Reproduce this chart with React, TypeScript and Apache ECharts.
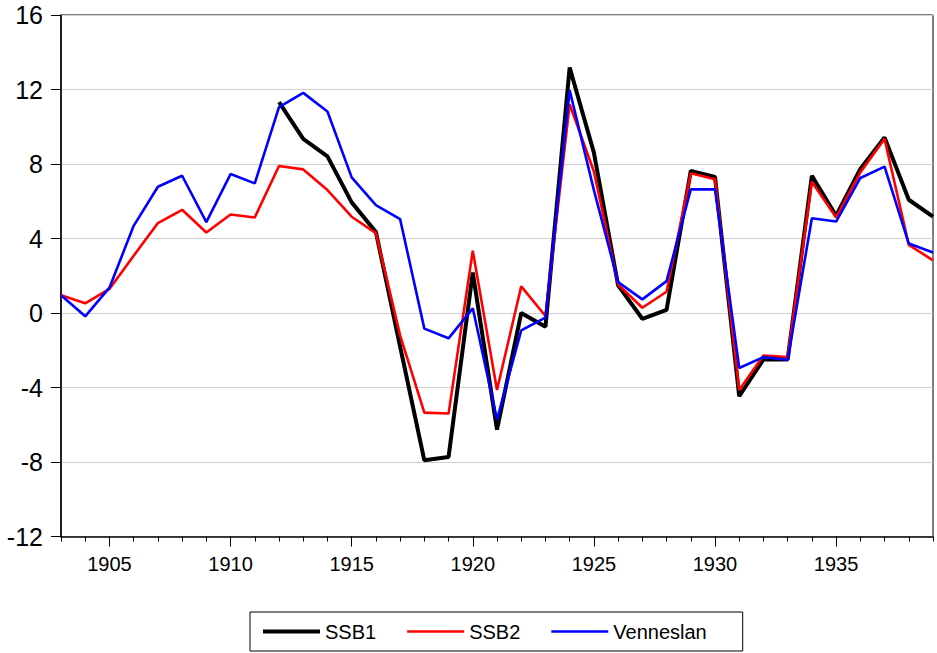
import React, { useEffect, useRef } from "react";
import * as echarts from "echarts";

const years: string[] = [
  "1903", "1904", "1905", "1906", "1907", "1908", "1909", "1910", "1911", "1912",
  "1913", "1914", "1915", "1916", "1917", "1918", "1919", "1920", "1921", "1922",
  "1923", "1924", "1925", "1926", "1927", "1928", "1929", "1930", "1931", "1932",
  "1933", "1934", "1935", "1936", "1937", "1938", "1939",
];

const ssb1: (number | null)[] = [
  null, null, null, null, null, null, null, null, null, 11.32,
  9.35, 8.41, 5.94, 4.35, -1.8, -7.91, -7.73, 2.17, -6.26, 0.0,
  -0.74, 13.18, 8.61, 1.48, -0.31, 0.17, 7.63, 7.3, -4.47, -2.49,
  -2.49, 7.37, 5.22, 7.73, 9.43, 6.08, 5.17,
];

const ssb2: number[] = [
  0.95, 0.52, 1.29, 3.07, 4.83, 5.54, 4.32, 5.29, 5.13, 7.89,
  7.71, 6.6, 5.17, 4.29, -1.2, -5.35, -5.4, 3.34, -4.13, 1.43,
  -0.16, 11.21, 7.6, 1.53, 0.28, 1.14, 7.5, 7.18, -4.13, -2.28,
  -2.37, 7.05, 5.13, 7.55, 9.35, 3.66, 2.83,
];

const venneslan: number[] = [
  0.95, -0.18, 1.36, 4.68, 6.78, 7.37, 4.88, 7.46, 6.96, 11.05,
  11.82, 10.82, 7.28, 5.79, 5.04, -0.84, -1.36, 0.25, -5.72, -0.93,
  -0.25, 11.96, 6.6, 1.66, 0.73, 1.71, 6.64, 6.64, -2.95, -2.37,
  -2.51, 5.09, 4.91, 7.25, 7.86, 3.73, 3.25,
];

const seriesNames: string[] = ["SSB1", "SSB2", "Venneslan"];

const FONT = 'Arial, "Liberation Sans", sans-serif';

// legend line icon: a stripe of given thickness centred in a 57x14 box
const stripe = (t: number) => {
  const a = (14 - t) / 2;
  const b = a + t;
  return `path://M0,0L0.01,0L0,0.01Z M0,${a}H57V${b}H0Z M57,14L56.99,14L57,13.99Z`;
};

export default function App() {
  const ref = useRef<HTMLDivElement>(null);

  useEffect(() => {
    document.body.style.margin = "0";
    if (!ref.current) return;
    const chart = echarts.init(ref.current, null, { renderer: "svg" });
    const labeled = (_i: number, v: string) => Number(v) % 5 === 0;
    chart.setOption({
      animation: false,
      backgroundColor: "#ffffff",
      grid: {
        left: 61,
        right: 4,
        top: 15,
        bottom: 116.5,
        show: true,
        borderColor: "#000000",
        borderWidth: 1,
        backgroundColor: "transparent",
      },
      legend: {
        left: 250,
        top: 612,
        orient: "horizontal",
        itemWidth: 57,
        itemHeight: 14,
        itemGap: 31,
        padding: [9.5, 36, 9.5, 13],
        borderColor: "#000000",
        borderWidth: 1,
        textStyle: { fontFamily: FONT, fontSize: 20, color: "#000000" },
        data: [
          { name: seriesNames[0], icon: stripe(4), itemStyle: { color: "#000000" } },
          { name: seriesNames[1], icon: stripe(2.5), itemStyle: { color: "#ff0000" } },
          { name: seriesNames[2], icon: stripe(2.5), itemStyle: { color: "#0000ff" } },
        ],
      },
      xAxis: [
        {
          type: "category",
          data: years,
          boundaryGap: false,
          position: "bottom",
          axisLine: { show: true, onZero: false, lineStyle: { color: "#000000", width: 1.5 } },
          axisTick: { show: true, interval: 0, length: 5, lineStyle: { color: "#000000" } },
          axisLabel: { show: false },
          splitLine: { show: false },
        },
        {
          type: "category",
          data: years,
          boundaryGap: false,
          position: "bottom",
          axisLine: { show: false, onZero: false },
          axisTick: { show: true, interval: labeled, length: 10, lineStyle: { color: "#000000" } },
          axisLabel: {
            show: true,
            interval: labeled,
            margin: 17,
            fontFamily: FONT,
            fontSize: 20,
            color: "#000000",
          },
          splitLine: { show: false },
        },
      ],
      yAxis: {
        type: "value",
        min: -12,
        max: 16,
        interval: 4,
        axisLine: { show: true, lineStyle: { color: "#000000", width: 1.5 } },
        axisTick: { show: true, length: 10, lineStyle: { color: "#000000" } },
        axisLabel: {
          margin: 18,
          fontFamily: FONT,
          fontSize: 25,
          color: "#000000",
        },
        splitLine: { show: true, lineStyle: { color: "#cfcfcf", width: 1 } },
      },
      series: [
        {
          name: seriesNames[0],
          type: "line",
          xAxisIndex: 0,
          data: ssb1,
          showSymbol: false,
          symbol: "none",
          color: "#000000",
          lineStyle: { color: "#000000", width: 4 },
        },
        {
          name: seriesNames[1],
          type: "line",
          xAxisIndex: 0,
          data: ssb2,
          showSymbol: false,
          symbol: "none",
          color: "#ff0000",
          lineStyle: { color: "#ff0000", width: 2.6 },
        },
        {
          name: seriesNames[2],
          type: "line",
          xAxisIndex: 0,
          data: venneslan,
          showSymbol: false,
          symbol: "none",
          color: "#0000ff",
          lineStyle: { color: "#0000ff", width: 2.6 },
        },
      ],
    });
    return () => chart.dispose();
  }, []);

  return (
    <div
      ref={ref}
      style={{ position: "fixed", left: 0, top: 0, width: 937, height: 653, background: "#ffffff" }}
    />
  );
}
